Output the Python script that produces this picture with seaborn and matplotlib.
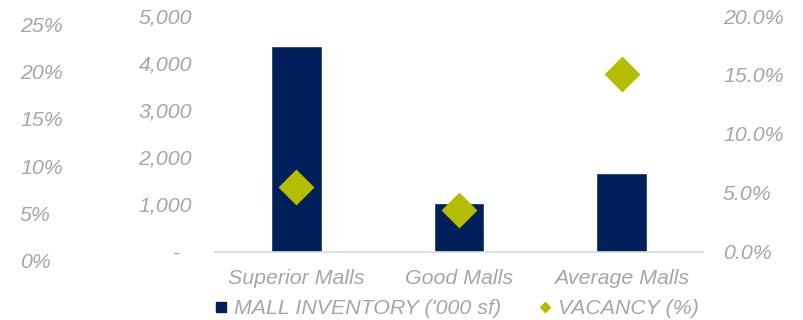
import numpy as np
import pandas as pd
import matplotlib
matplotlib.use("Agg")
import matplotlib.pyplot as plt
import seaborn as sns
from matplotlib.lines import Line2D
from matplotlib.ticker import FuncFormatter, FixedLocator

# ---- data ----
categories = ["Superior Malls", "Good Malls", "Average Malls"]
inventory = [4370, 1020, 1670]          # '000 sf
vacancy = [5.5, 3.5, 15.1]              # %
left_ticks = [0, 1000, 2000, 3000, 4000, 5000]
right_ticks = [0, 5, 10, 15, 20]
far_left_ticks = [0, 5, 10, 15, 20, 25]

NAVY = "#00205B"
OLIVE = "#B5BD00"
GRAY = "#A6A6A6"
FS = 15.4

sns.set_theme(style="white")
plt.rcParams["font.family"] = ["Liberation Sans", "DejaVu Sans"]
plt.rcParams["font.style"] = "italic"

W, H = 804, 320
fig = plt.figure(figsize=(W / 100, H / 100), dpi=100)

def fx(px):
    return px / W

def fy(py):
    return 1 - py / H

# main axes: baseline at y=251.5, 5000 at y=16
ax = fig.add_axes([fx(215), fy(251.5), fx(703) - fx(215), fy(16) - fy(251.5)])
df = pd.DataFrame({"cat": categories, "inv": inventory, "vac": vacancy})
sns.barplot(data=df, x="cat", y="inv", color=NAVY, saturation=1, width=0.31, ax=ax)
ax.set_xlim(-0.5, 2.5)
ax.set_ylim(0, 5000)
ax.yaxis.set_major_locator(FixedLocator(left_ticks))
ax.yaxis.set_major_formatter(FuncFormatter(lambda v, p: "-  " if v == 0 else f"{int(v):,}"))
ax.set_xlabel("")
ax.set_ylabel("")
for s in ["top", "right", "left"]:
    ax.spines[s].set_visible(False)
ax.spines["bottom"].set_color("#D9D9D9")
ax.spines["bottom"].set_linewidth(1.2)
ax.tick_params(axis="y", length=0, pad=16.5, labelsize=FS, labelcolor=GRAY)
ax.tick_params(axis="x", length=0, pad=12.5, labelsize=FS, labelcolor=GRAY)

# right axis
ax2 = ax.twinx()
sns.stripplot(data=df, x="cat", y="vac", jitter=False, marker="D", size=18.3,
              color=OLIVE, linewidth=0, ax=ax2, zorder=5)
ax2.set_ylim(0, 20)
ax2.set_xlim(-0.5, 2.5)
ax2.yaxis.set_major_locator(FixedLocator(right_ticks))
ax2.yaxis.set_major_formatter(FuncFormatter(lambda v, p: f"{v:.1f}%"))
ax2.set_xlabel("")
ax2.set_ylabel("")
for s in ["top", "right", "left", "bottom"]:
    ax2.spines[s].set_visible(False)
ax2.tick_params(axis="y", length=0, pad=14.4, labelsize=FS, labelcolor=GRAY)
ax2.tick_params(axis="x", length=0, pad=12.5, labelsize=FS, labelcolor=GRAY)
ax2.set_xticks(range(len(categories)))
ax2.set_xticklabels(categories)

# far-left stray percentage axis: 0% at y=261, 25% at y=24
ax3 = fig.add_axes([fx(20), fy(261), 0.005, fy(24) - fy(261)])
ax3.patch.set_visible(False)
for s in ax3.spines.values():
    s.set_visible(False)
ax3.set_ylim(0, 25)
ax3.set_xticks([])
ax3.yaxis.set_major_locator(FixedLocator(far_left_ticks))
ax3.yaxis.set_major_formatter(FuncFormatter(lambda v, p: f"{int(v)}%"))
ax3.tick_params(axis="y", length=0, pad=0, labelsize=FS, labelcolor=GRAY)
for lbl in ax3.get_yticklabels():
    lbl.set_horizontalalignment("left")

# legend
handles = [
    Line2D([], [], marker="s", color=NAVY, linestyle="none", markersize=7.2),
    Line2D([], [], marker="D", color=OLIVE, linestyle="none", markersize=5.1),
]
labels = ["MALL INVENTORY ('000 sf)", "VACANCY (%)"]
leg = fig.legend(handles, labels, loc="center", bbox_to_anchor=(fx(457), fy(308.5)),
                 ncol=2, frameon=False, fontsize=FS, handlelength=0.6,
                 handletextpad=0.3, columnspacing=1.77, borderpad=0)
for t in leg.get_texts():
    t.set_color(GRAY)

fig.savefig("out.png", dpi=100)
